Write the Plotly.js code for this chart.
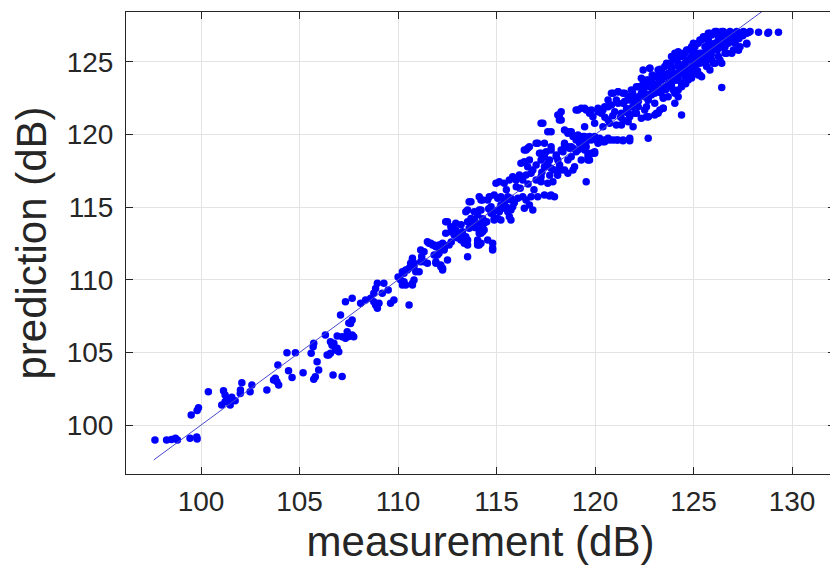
<!DOCTYPE html>
<html>
<head>
<meta charset="utf-8">
<script src="https://cdn.plot.ly/plotly-3.0.1.min.js"></script>
<style>
  html, body { margin: 0; padding: 0; overflow: hidden; background: #ffffff; }
  #chart { width: 835px; height: 565px; }
</style>
</head>
<body>
<div id="chart"></div>
<script>
const pointsLow = [
  [97.66,98.97],[98.25,98.97],[98.50,99.00],[98.70,99.10],[98.80,98.97],[99.44,99.10],[99.78,99.17],[99.80,99.04],
  [99.50,100.70],[99.80,101.00],[99.87,101.20],[100.37,102.30],[101.14,102.36],[101.22,102.07],[101.05,101.38],
  [101.22,101.60],[101.39,101.72],[101.48,101.38],[101.31,101.84],[101.73,101.67],[101.56,101.91],[101.99,102.18],
  [102.07,102.91],[102.00,102.41],[102.58,102.75],[102.49,102.29],[103.34,102.41],[103.68,103.10],[103.85,102.98],
  [103.94,102.75],[103.77,103.22],[103.90,104.13],[104.36,104.98],[104.79,104.98],[104.44,103.74],[104.62,103.28],
  [105.18,103.60],[105.59,104.94],[105.72,105.63],[105.69,105.39],[105.89,104.36],[105.97,103.79],[105.80,103.33],
  [105.72,103.15],[106.40,104.82],[106.57,104.94],[106.70,103.44],[106.91,105.28],[106.99,105.05],[107.16,103.35],
  [107.50,107.02],[107.50,106.10],[106.57,105.74],[106.65,105.50],[106.82,105.17],[106.48,104.82]
];
const pointsMidA = [
  [106.31,106.20],[106.74,105.63],[106.91,106.13],[107.16,106.08],[107.33,105.97],[107.42,106.43],[107.67,106.20],
  [107.75,106.08],[107.59,107.00],[107.67,107.23],[107.08,107.58],[107.33,108.49],[107.67,108.73],[108.10,108.38],
  [108.35,108.61],[108.61,108.73],[108.77,108.49],[108.86,108.26],[108.95,108.04],[109.03,108.38],[108.77,109.07],
  [108.86,109.41],[108.95,109.76],[109.20,109.07],[109.28,109.76],[109.62,108.38],[109.79,108.61],[110.56,108.26],
  [110.22,109.64],[110.30,109.87],[110.73,109.76],[110.81,109.99],[110.22,110.56],[110.39,110.67],[110.56,110.79],
  [110.64,111.14],[110.81,110.90],[111.07,110.56],[110.73,111.48],[111.15,112.05],[111.32,111.25],[111.49,111.14],
  [111.57,112.51],[111.75,112.40],[111.92,112.28],[112.08,112.40],[112.17,112.17],[112.00,111.71],[111.92,111.14],
  [112.17,111.02],[112.26,110.79],[112.51,111.36],[112.59,112.40],[112.42,113.20],[112.68,113.31],[112.93,113.20],
  [113.19,113.09],[113.36,112.51],[113.53,111.59],[113.53,112.40],[114.04,112.51],[114.12,113.20],[114.29,113.31],
  [114.55,112.74]
];
const pointsMidB = [
  [110.13,109.99],[110.30,110.45],[110.47,110.67],[110.64,110.90],[110.73,111.36],[110.81,111.14],[110.90,110.56],
  [110.73,109.64],[110.39,109.64],[111.15,111.25],[111.32,111.94],[111.49,112.62],[111.66,112.51],[111.83,112.40],
  [112.00,112.28],[112.17,112.40],[112.34,112.17],[112.08,111.83],[111.83,111.71],[111.92,111.25],[112.17,110.90],
  [112.26,110.67],[112.51,114.00],[112.68,113.66],[112.85,113.31],[112.93,113.89],[113.10,113.20],[113.27,113.31],
  [113.44,112.97],[113.53,112.74],[114.04,112.40],[114.21,112.51],[114.29,113.43],[114.37,113.89],[113.53,114.00],
  [113.70,114.23],[113.87,114.12],[113.78,113.89],[114.04,114.46],[114.21,114.81],[113.61,115.38],[114.12,115.72],
  [114.29,115.50],[114.63,115.72],[114.88,115.84],[115.06,115.61],[115.22,115.72],[115.57,115.72],[115.73,115.50],
  [115.22,115.15],[115.06,114.81],[115.39,114.92],[114.72,114.58],[114.88,114.23],[115.22,114.12],[115.73,114.81],
  [114.80,112.51],[114.80,112.05]
];
const pointsMidC = [
  [112.42,114.00],[112.34,112.05],[112.26,112.51],[112.93,113.43],[112.85,113.09],[113.19,112.74],[113.61,113.55],
  [113.70,114.00],[114.04,113.89],[114.12,113.43],[114.21,113.20],[114.04,112.74],[114.12,112.40],[114.29,113.55],
  [114.37,113.43],[114.80,112.17],[113.44,114.69],[113.53,114.81],[113.70,115.38],[113.87,114.69],[114.12,114.81],
  [114.21,115.50],[114.55,115.50],[114.72,115.03],[114.80,114.58],[114.88,114.12],[115.06,114.23],[115.14,114.69],
  [115.22,114.92],[115.31,115.15],[115.48,115.03],[115.57,114.69],[115.65,114.35],[115.73,114.12],[115.82,115.03],
  [115.73,115.61],[116.08,115.61],[116.33,115.72],[116.50,115.50],[116.75,115.72],[116.84,114.81],[116.41,114.92],
  [116.67,115.15],[117.09,115.72],[117.43,115.84],[117.69,115.77],[117.94,115.72],[114.97,116.65],[115.14,116.76],
  [115.39,116.65],[115.65,116.87],[115.82,117.10],[115.99,116.87],[116.16,117.22],[116.33,116.87],[116.50,117.22],
  [116.75,117.33],[117.01,116.87],[117.26,116.76],[117.60,116.65],[117.86,116.76],[116.24,118.02],[116.41,118.13],
  [116.58,117.79],[116.67,118.25],[116.84,117.56],[117.01,117.91],[117.26,118.25],[117.26,118.71],[117.43,118.48],
  [117.60,118.02],[117.77,117.68],[117.94,117.56],[118.20,117.91],[118.45,117.56],[117.52,118.82],[117.77,119.17],
  [118.03,118.59],[118.28,118.94],[118.45,119.28],[118.70,119.06],[118.79,118.48],[118.88,117.56],[118.62,118.25],
  [119.04,118.82],[119.30,119.28],[119.55,119.51],[119.64,118.71],[119.64,118.25],[119.98,118.71],[120.15,119.40],
  [120.49,119.51],[119.55,116.76],[116.58,119.06],[117.09,119.40],[116.41,118.94]
];
const pointsMidD = [
  [113.20,113.80],[113.90,113.60],[114.50,114.00],[114.60,114.90],[115.40,115.40],[115.90,115.30],[116.20,116.30],
  [116.60,116.60],[116.90,116.20],[117.30,117.40],[117.70,117.20],[118.10,117.20],[115.50,116.20],[116.00,116.40],
  [114.30,114.20],[113.00,112.90],[112.70,112.60],[111.20,111.60],[110.00,110.20],[109.50,109.30]
];
const pointsUpperA = [
  [117.35,120.78],[117.77,120.20],[118.19,121.35],[118.28,121.00],[119.04,121.69],[119.30,121.81],[119.55,121.69],
  [119.72,121.47],[119.89,121.23],[120.15,121.58],[120.40,121.69],[120.66,121.92],[120.91,122.84],[121.17,122.95],
  [121.42,122.84],[121.08,122.38],[121.42,122.16],[121.76,122.38],[121.93,122.61],[122.10,123.30],[122.44,123.53],
  [122.61,123.76],[122.78,124.57],[123.12,123.99],[123.37,124.22],[123.54,124.68],[123.80,124.91],[124.05,125.14],
  [124.30,125.37],[124.48,125.60],[124.65,125.83],[124.99,126.29],[125.32,126.51],[125.50,126.74],[125.83,126.98],
  [126.17,127.09],[126.51,127.09],[126.85,127.09],[127.19,127.09],[127.53,127.09],[127.87,127.09],[128.30,127.05],
  [128.81,127.05],[129.31,127.05],[122.78,123.30],[123.12,123.07],[123.46,122.61],[123.46,121.81],[123.12,121.47],
  [122.70,121.23],[124.39,121.35],[122.70,119.74],[121.76,119.74],[121.42,119.63],[121.08,119.63],[120.74,119.63],
  [120.40,119.51],[120.06,119.63],[119.72,119.86],[119.38,119.86],[119.55,119.17],[119.89,118.71],[120.40,120.54],
  [120.74,120.78],[121.08,120.66],[121.42,121.00],[121.76,121.23],[122.10,121.47],[121.93,120.54],[122.61,121.92],
  [123.80,123.53],[124.14,123.76],[124.48,123.53],[123.97,123.07],[124.22,122.61],[124.48,124.45],[124.99,124.68],
  [125.32,124.91],[125.66,125.14],[126.00,124.91],[126.34,125.14],[126.68,125.60],[127.02,125.83],[127.36,126.05],
  [127.70,126.29],[127.19,126.74],[126.85,126.51],[125.83,126.29],[125.32,124.10],[125.66,125.60],[126.17,126.05],
  [126.51,126.29],[126.94,126.98],[126.26,126.74],[124.99,125.60],[124.65,125.14],[126.43,123.25],[127.70,126.98],
  [127.28,125.83]
];
const pointsUpperB = [
  [122.61,121.23],[123.03,121.35],[123.29,121.69],[123.46,122.50],[122.78,124.57],[122.35,123.88],[122.52,123.30],
  [122.70,122.38],[123.03,122.84],[123.37,123.76],[123.63,124.91],[123.88,125.37],[124.05,125.60],[124.22,125.71],
  [124.39,124.45],[124.56,124.68],[124.73,125.14],[124.90,125.37],[125.07,126.05],[125.24,126.29],[125.41,126.51],
  [125.58,126.74],[125.75,126.98],[125.92,126.86],[126.09,127.09],[126.26,126.98],[126.43,127.09],[126.60,126.98],
  [126.77,126.98],[126.94,126.98],[127.11,126.98],[127.28,126.98],[127.45,126.98],[127.61,126.98],[127.79,127.02],
  [128.77,126.98],[127.70,126.24],[127.28,125.83],[126.94,125.60],[126.43,124.91],[126.09,124.91],[125.92,125.14],
  [125.41,125.60],[125.24,124.10],[125.41,123.99],[124.05,123.76],[123.88,123.30],[124.22,123.07],[124.39,123.53],
  [124.56,123.99],[123.71,124.22],[123.37,124.45],[125.75,125.60],[126.26,126.05],[126.77,126.29],[126.60,126.51],
  [125.75,126.29],[124.90,124.22],[125.07,124.68]
];
const pointsUpperC = [
  [122.70,123.76],[122.86,123.30],[123.03,123.99],[123.20,123.53],[123.20,124.45],[123.54,123.99],[123.54,123.30],
  [123.71,123.53],[123.88,124.68],[124.05,124.22],[124.22,124.91],[124.39,125.37],[124.56,125.60],[124.73,125.83],
  [124.90,126.05],[125.07,125.60],[125.24,125.37],[125.07,125.14],[124.90,124.68],[124.73,124.22],[125.58,126.05],
  [125.75,126.51],[125.92,125.83],[126.09,126.29],[126.26,126.51],[126.43,126.74],[126.60,126.05],[126.94,126.51],
  [127.11,126.29],[125.58,125.14],[125.66,124.68],[126.26,125.37],[126.60,125.60],[125.83,124.45],[123.37,123.07],
  [122.86,122.84],[122.52,122.61],[122.44,124.45]
];
const pointsUpperD = [
  [118.11,121.35],[118.28,121.58],[118.19,121.00],[118.45,120.32],[118.62,120.09],[118.79,120.20],[118.96,119.86],
  [119.13,119.97],[119.30,119.74],[119.47,119.86],[119.64,119.74],[119.81,119.63],[119.98,119.86],[120.23,119.74],
  [120.49,119.63],[120.66,119.74],[120.91,119.63],[121.17,119.63],[121.42,119.58],[121.76,119.58],[119.47,120.54],
  [119.98,120.78],[120.66,121.00],[121.34,120.66],[121.68,120.89],[122.35,121.12],[123.20,121.47],[122.70,121.23],
  [123.46,121.81],[119.13,121.69],[119.47,121.81],[119.81,121.69],[120.15,121.81],[120.49,121.92],[120.83,122.04],
  [121.17,122.16],[121.50,122.27],[121.84,122.38],[122.19,121.92],[122.01,121.47],[121.68,121.47],[121.34,121.47],
  [121.00,121.58],[120.83,122.84],[121.17,122.95],[121.50,122.84],[121.84,123.07],[122.19,123.30],[122.52,123.53],
  [122.86,123.76],[123.20,123.99],[123.54,124.10],[123.88,124.45],[124.22,124.68],[124.56,124.91],[122.35,122.84],
  [122.86,122.73],[123.37,123.07],[123.88,123.30],[124.22,123.76],[117.26,120.78],[117.60,120.20],[117.43,119.40],
  [117.77,118.94],[118.11,118.25],[118.28,117.56],[118.62,117.33],[118.96,117.79],[119.30,118.25],[119.64,118.48],
  [119.81,118.71],[119.13,118.94],[118.79,119.17],[118.45,119.40],[117.77,115.84],[117.26,117.10],[117.43,117.79],
  [119.98,118.82],[119.72,118.25],[122.01,122.16],[122.70,122.38],[123.03,122.16],[122.52,121.69],[123.71,122.61],
  [124.05,122.84],[124.39,123.30],[124.73,123.76],[124.05,122.16],[122.19,122.61],[121.68,122.61],[120.66,122.38],
  [120.32,121.47],[116.50,118.94],[116.67,119.17],[117.01,119.40],[117.18,118.71],[117.35,118.48],[117.69,118.25],
  [118.03,118.48],[118.37,118.82],[118.62,119.17],[118.88,119.06],[119.21,119.40],[119.47,118.94],[118.70,120.20],
  [118.88,119.86],[119.04,119.63]
];
const pointsUpperE = [
  [123.30,122.90],[123.60,123.10],[123.90,123.60],[124.20,124.00],[124.50,124.20],[124.80,124.50],[125.10,124.90],
  [125.40,125.30],[125.70,125.80],[126.00,126.20],[126.30,126.40],[126.60,126.80],[123.00,123.40],[122.50,122.90],
  [122.20,122.30],[121.90,121.90],[121.60,121.80],[121.30,121.20],[120.90,121.30],[120.50,121.20],[122.90,124.10],
  [123.80,124.00],[124.30,124.30],[124.60,124.00],[125.00,125.00],[125.30,125.60],[125.90,125.50],[126.20,125.80],
  [126.50,126.00],[126.90,126.70],[127.30,126.60],[127.50,126.80],[124.90,123.90],[124.60,123.50],[125.20,124.40],
  [125.60,124.90],[121.90,122.90],[122.40,123.10],[122.90,123.50],[123.30,124.50]
];
// identity reference line y = x
const lineMeasurement = [97.6, 129.31];
const linePrediction = [97.6, 129.31];

const xTicks = [100, 105, 110, 115, 120, 125, 130];
const yTicks = [100, 105, 110, 115, 120, 125];

const allPoints = [].concat(pointsLow, pointsMidA, pointsMidB, pointsMidC, pointsMidD,
  pointsUpperA, pointsUpperB, pointsUpperC, pointsUpperD, pointsUpperE);
const measurement = allPoints.map(p => p[0]);
const prediction = allPoints.map(p => p[1]);

const textColor = '#262626';
const fontFam = '"Liberation Sans", Arial, Helvetica, sans-serif';

const traces = [
  {
    type: 'scatter', mode: 'markers',
    x: measurement, y: prediction,
    marker: { color: '#0000ff', size: 7.5, line: { width: 0 } },
    hoverinfo: 'skip', showlegend: false
  },
  {
    type: 'scatter', mode: 'lines',
    x: lineMeasurement, y: linePrediction,
    line: { color: 'rgb(72,72,205)', width: 1 },
    hoverinfo: 'skip', showlegend: false
  }
];

const axisCommon = {
  showgrid: true, gridcolor: '#e3e3e3', gridwidth: 1,
  zeroline: false, showline: true, linecolor: textColor, linewidth: 1,
  ticks: 'inside', ticklen: 7, tickwidth: 1, tickcolor: textColor,
  mirror: 'ticks', tickmode: 'array',
  tickfont: { family: fontFam, size: 28, color: textColor },
  automargin: false
};

const layout = {
  width: 835, height: 565,
  margin: { l: 126, r: 0, t: 12, b: 91 },
  paper_bgcolor: '#ffffff', plot_bgcolor: '#ffffff',
  showlegend: false,
  xaxis: Object.assign({}, axisCommon, {
    range: [96.19, 132.18],
    tickvals: xTicks, ticktext: xTicks.map(String),
    ticklabelstandoff: 2,
    title: { text: 'measurement (dB)', font: { family: fontFam, size: 42, color: textColor }, standoff: 12 }
  }),
  yaxis: Object.assign({}, axisCommon, {
    range: [96.63, 128.44],
    tickvals: yTicks, ticktext: yTicks.map(String),
    ticklabelstandoff: 6,
    title: { text: 'prediction (dB)', font: { family: fontFam, size: 42, color: textColor }, standoff: 6 }
  })
};

Plotly.newPlot('chart', traces, layout, { staticPlot: true, displayModeBar: false });
</script>
</body>
</html>
